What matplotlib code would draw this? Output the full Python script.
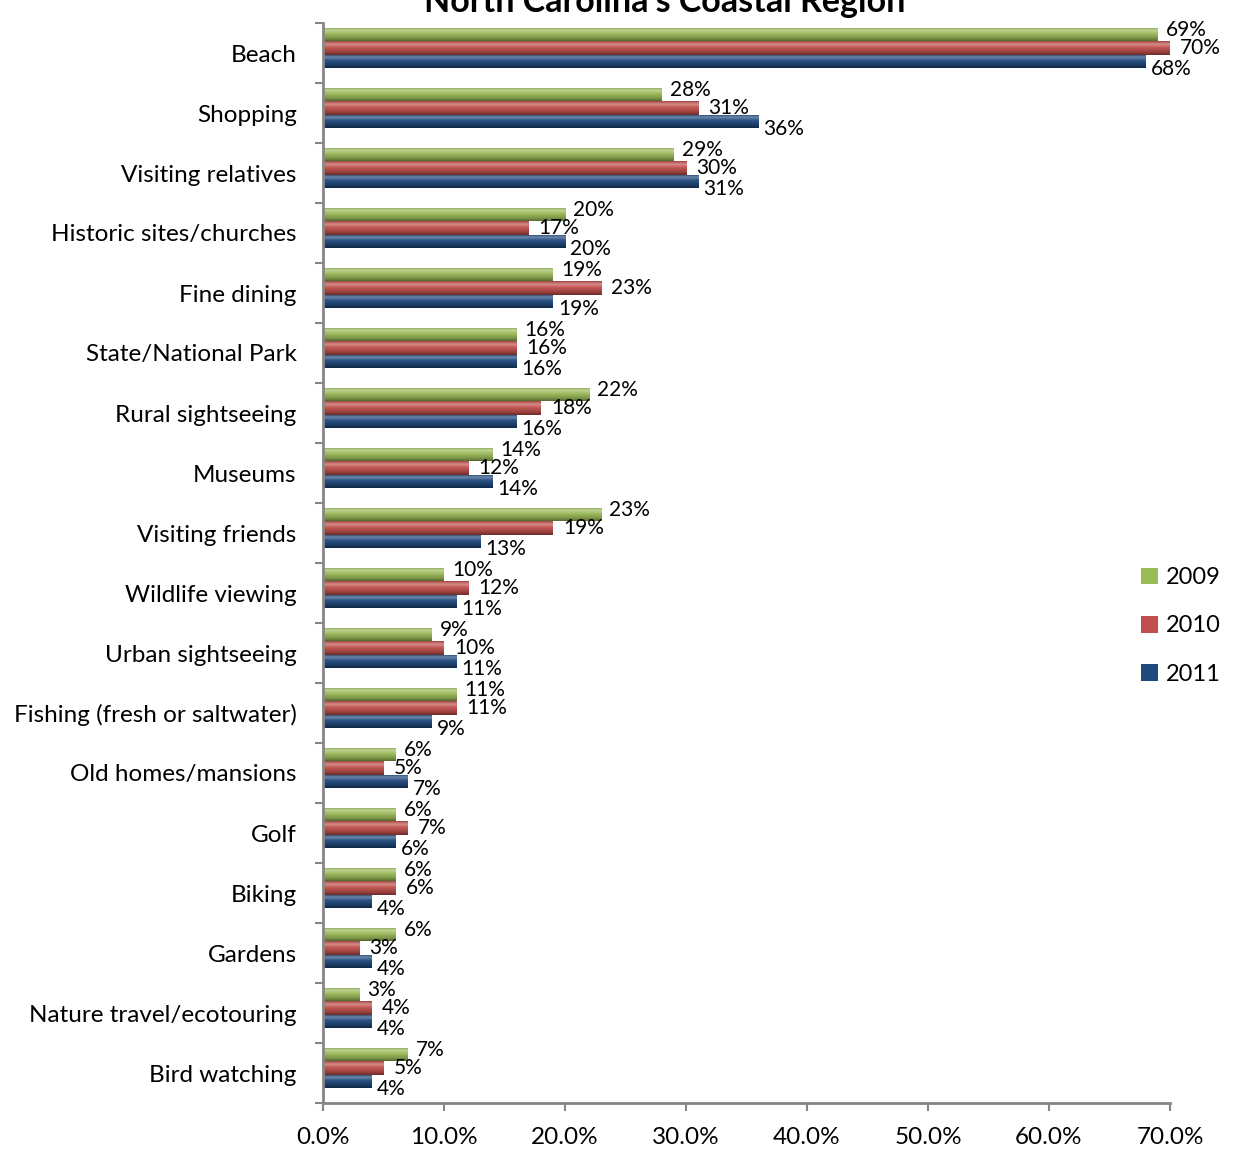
import numpy as np
import matplotlib
matplotlib.use("Agg")
import matplotlib.pyplot as plt
from matplotlib.colors import LinearSegmentedColormap, to_rgb
from matplotlib.patches import Patch
from matplotlib.ticker import FuncFormatter, FixedLocator

plt.rcParams['font.family'] = ['Lato', 'DejaVu Sans']

title = "North Carolina's Coastal Region"
categories = [
    "Beach", "Shopping", "Visiting relatives", "Historic sites/churches",
    "Fine dining", "State/National Park", "Rural sightseeing", "Museums",
    "Visiting friends", "Wildlife viewing", "Urban sightseeing",
    "Fishing (fresh or saltwater)", "Old homes/mansions", "Golf", "Biking",
    "Gardens", "Nature travel/ecotouring", "Bird watching",
]
years = ["2009", "2010", "2011"]
v2009 = [69, 28, 29, 20, 19, 16, 22, 14, 23, 10, 9, 11, 6, 6, 6, 6, 3, 7]
v2010 = [70, 31, 30, 17, 23, 16, 18, 12, 19, 12, 10, 11, 5, 7, 6, 3, 4, 5]
v2011 = [68, 36, 31, 20, 19, 16, 16, 14, 13, 11, 11, 9, 7, 6, 4, 4, 4, 4]
xticks = [0, 10, 20, 30, 40, 50, 60, 70]

series = [v2009, v2010, v2011]
base_colors = ["#9BBB59", "#C0504D", "#1F497D"]


def shade(c, f):
    r, g, b = to_rgb(c)
    if f >= 0:
        return (r + (1 - r) * f, g + (1 - g) * f, b + (1 - b) * f)
    f = -f
    return (r * (1 - f), g * (1 - f), b * (1 - f))


def cylinder_cmap(c):
    # top edge -> highlight -> body -> dark lower edge
    stops = [(0.0, shade(c, -0.15)), (0.22, shade(c, 0.35)),
             (0.45, shade(c, 0.05)), (0.8, shade(c, -0.2)),
             (1.0, shade(c, -0.45))]
    return LinearSegmentedColormap.from_list("cyl", stops)


W, H = 1236, 1150
fig = plt.figure(figsize=(W / 100, H / 100), dpi=100)
ax = fig.add_axes([323 / W, 47 / H, (1170 - 323) / W, (1103 - 23) / H])

n = len(categories)
bh = 0.225
shift = 0.08
grad = np.linspace(0, 1, 64).reshape(-1, 1)

# label offsets in pixels (right, up) for each series
label_off = [(8, 5), (10, 0), (5, -7)]

for s, (vals, col) in enumerate(zip(series, base_colors)):
    cmap = cylinder_cmap(col)
    for i, v in enumerate(vals):
        yc = (n - 1 - i) + shift + (1 - s) * bh
        bar = ax.barh(yc, v, height=bh, color=col, linewidth=0)[0]
        im = ax.imshow(grad, cmap=cmap, aspect="auto", origin="upper",
                       extent=(0, v, yc - bh / 2, yc + bh / 2),
                       interpolation="bilinear", zorder=2)
        im.set_clip_path(bar)
        dx, dy = label_off[s]
        ax.annotate(f"{v:.0f}%", xy=(v, yc), xytext=(dx, dy),
                    textcoords="offset pixels", ha="left", va="center",
                    fontsize=15, color="black", zorder=5)

ax.set_xlim(0, 70)
ax.set_ylim(-0.5, n - 0.5)

ax.xaxis.set_major_locator(FixedLocator(xticks))
ax.xaxis.set_major_formatter(FuncFormatter(lambda x, p: f"{x:.1f}%"))
ax.set_yticks(np.arange(n))
ax.set_yticklabels(categories[::-1])
ax.yaxis.set_minor_locator(FixedLocator(np.arange(-0.5, n, 1.0)))

axis_col = "#868686"
for side in ("top", "right"):
    ax.spines[side].set_visible(False)
for side in ("left", "bottom"):
    ax.spines[side].set_color(axis_col)
    ax.spines[side].set_linewidth(2)

ax.tick_params(axis="x", which="major", length=6, width=1.5, color=axis_col,
               labelsize=17.5, pad=11)
ax.tick_params(axis="y", which="major", length=0, labelsize=17.5, pad=19)
ax.tick_params(axis="y", which="minor", length=6, width=1.5, color=axis_col)

fig.text(665 / W, (H - 12) / H, title, ha="center", va="baseline",
         fontsize=24.5, fontweight="bold")

handles = [Patch(facecolor=c, edgecolor="none") for c in base_colors]
fig.legend(handles, years, loc="center left",
           bbox_to_anchor=(1120 / W, (H - 626) / H), frameon=False,
           fontsize=17, handlelength=0.7, handleheight=0.7,
           handletextpad=0.35, labelspacing=1.15)

fig.savefig("out.png", dpi=100)
